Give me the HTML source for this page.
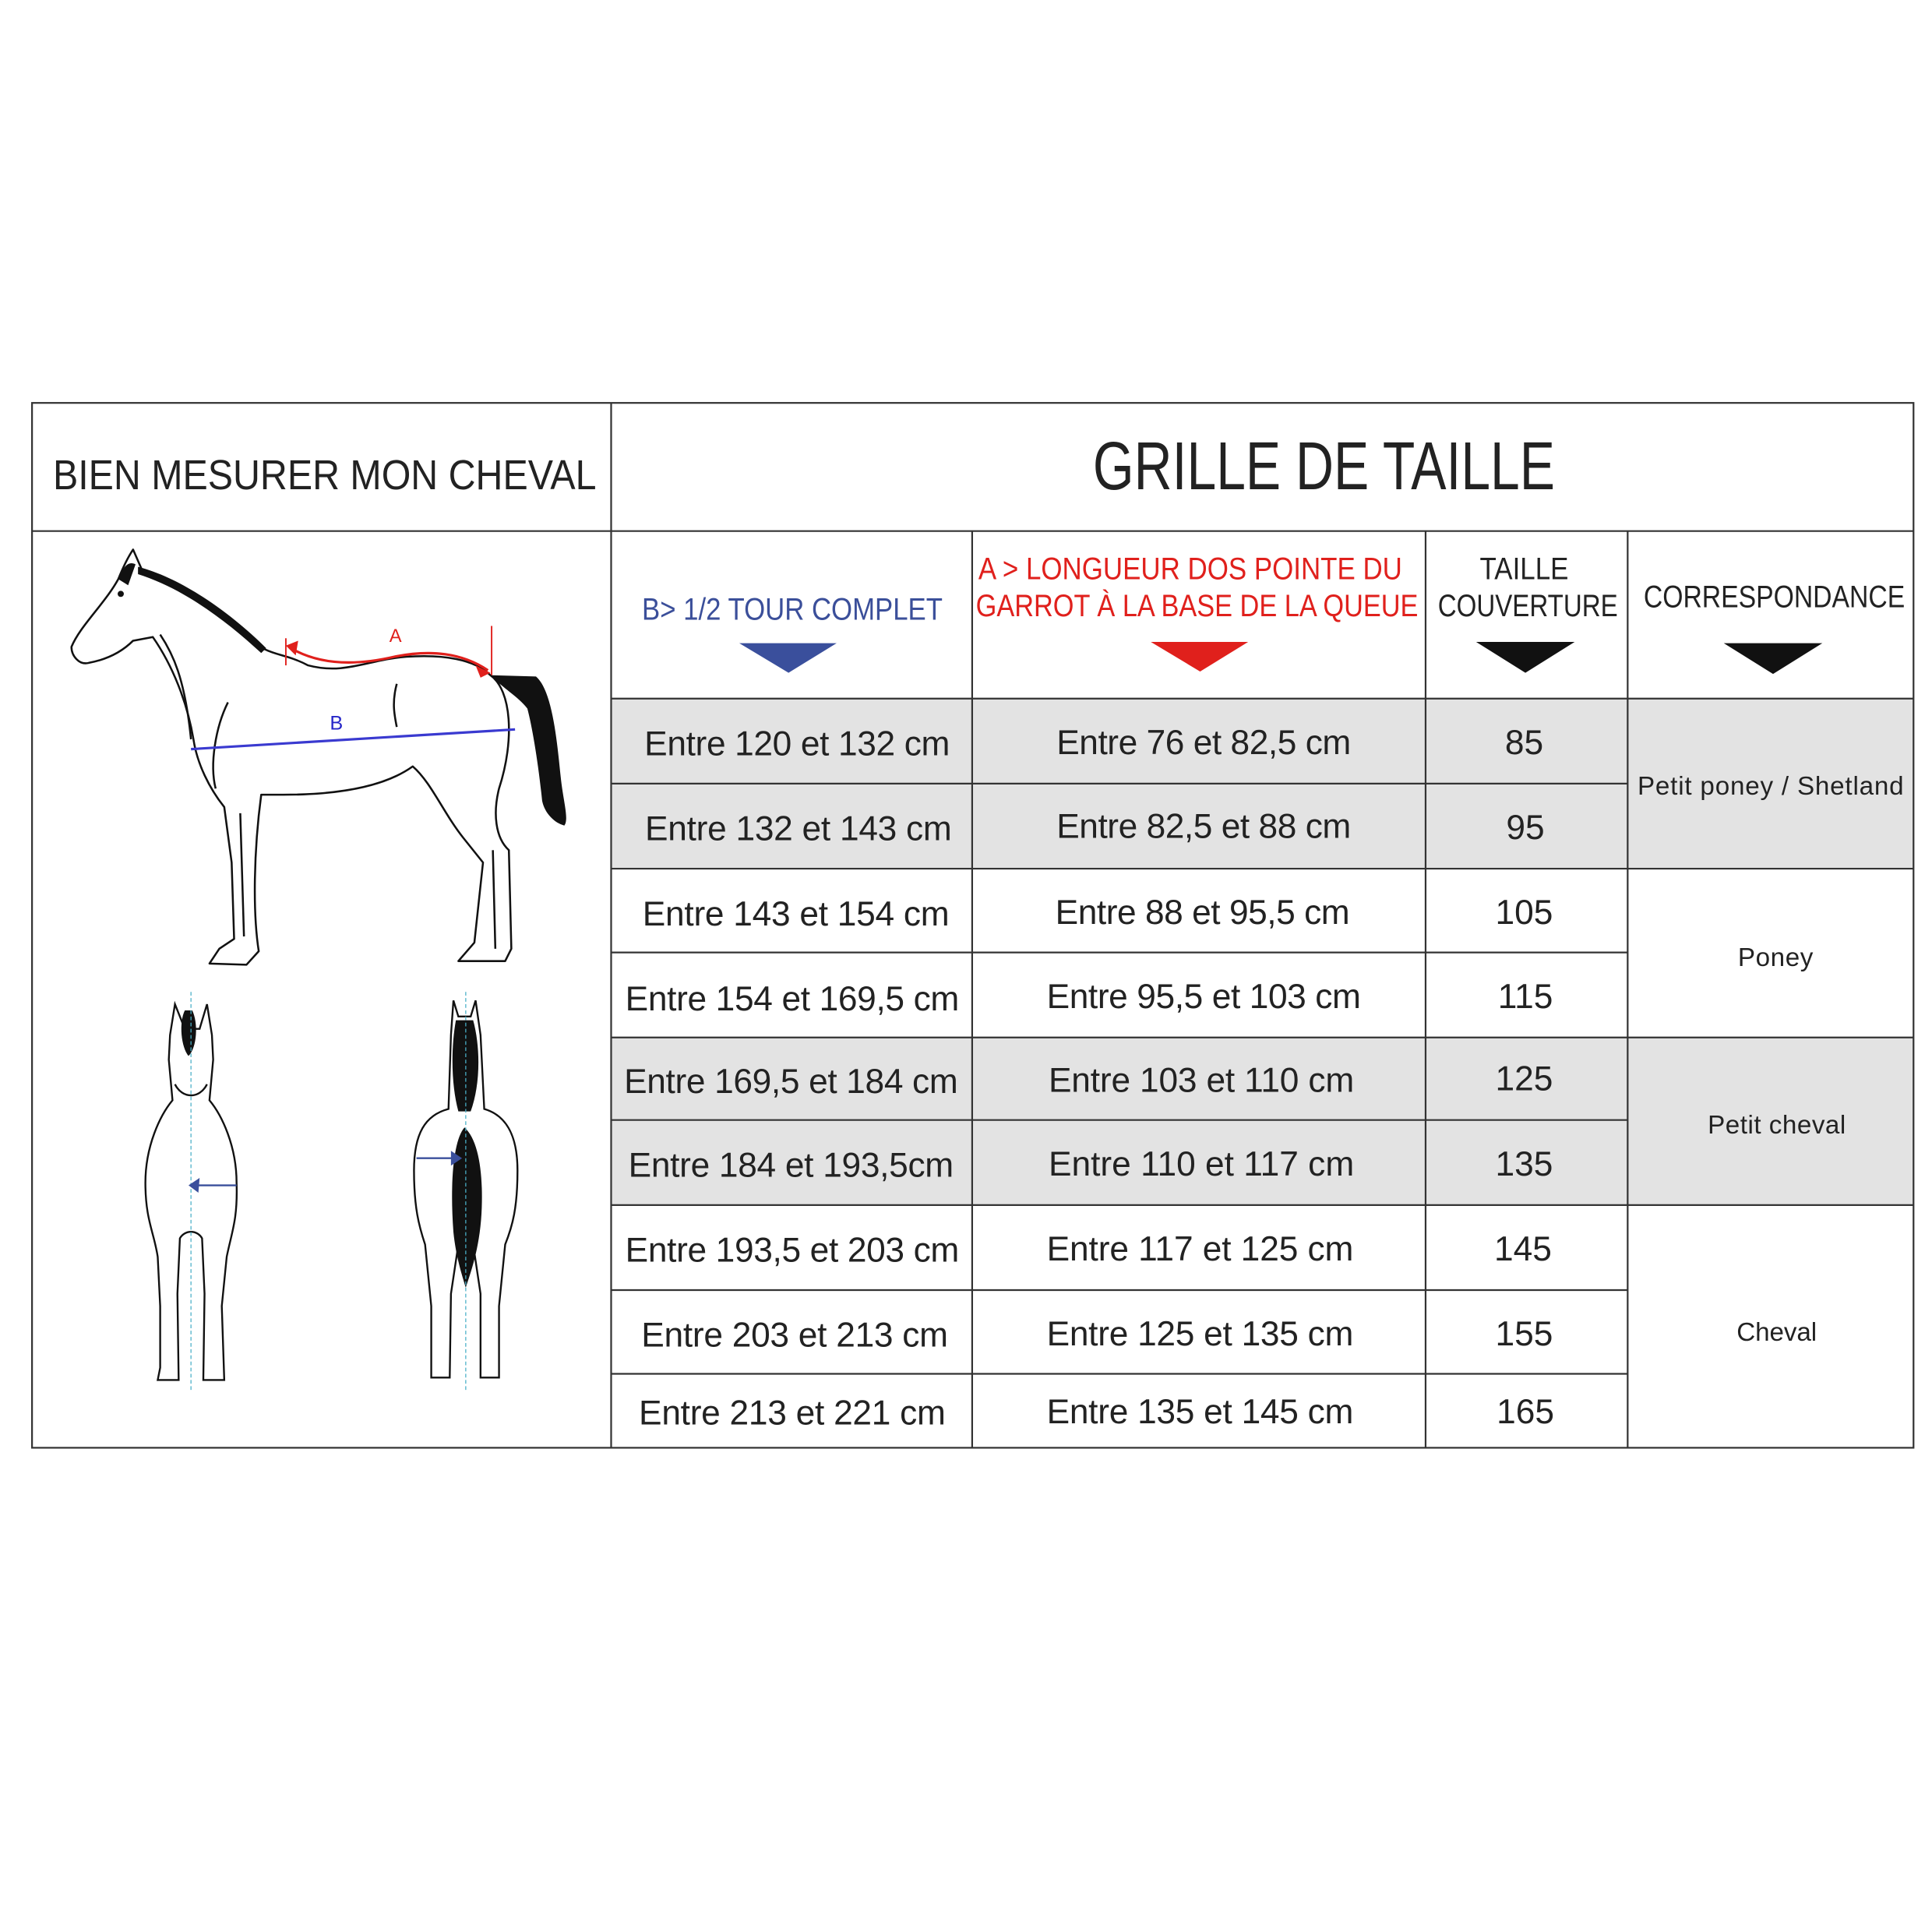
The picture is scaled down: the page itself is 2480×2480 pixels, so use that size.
<!DOCTYPE html>
<html><head><meta charset="utf-8"><style>html,body{margin:0;padding:0;background:#fff}svg{display:block}</style></head><body>
<svg width="2480" height="2480" viewBox="0 0 1568 1568" xmlns="http://www.w3.org/2000/svg" font-family="'Liberation Sans', sans-serif">
<rect width="1568" height="1568" fill="#fff"/>
<!-- gray fills -->
<rect x="496" y="567" width="1057" height="138" fill="#e3e3e3"/>
<rect x="496" y="842" width="1057" height="136" fill="#e3e3e3"/>
<g stroke="#333" stroke-width="1.4" fill="none">
<rect x="26" y="327" width="1527" height="848"/>
<line x1="26" y1="431" x2="1553" y2="431"/>
<line x1="496" y1="327" x2="496" y2="1175"/>
<line x1="789" y1="431" x2="789" y2="1175"/>
<line x1="1157" y1="431" x2="1157" y2="1175"/>
<line x1="1321" y1="431" x2="1321" y2="1175"/>
<line x1="496" y1="567" x2="1553" y2="567"/>
<line x1="496" y1="636" x2="1321" y2="636"/>
<line x1="496" y1="705" x2="1553" y2="705"/>
<line x1="496" y1="773" x2="1321" y2="773"/>
<line x1="496" y1="842" x2="1553" y2="842"/>
<line x1="496" y1="909" x2="1321" y2="909"/>
<line x1="496" y1="978" x2="1553" y2="978"/>
<line x1="496" y1="1047" x2="1321" y2="1047"/>
<line x1="496" y1="1115" x2="1321" y2="1115"/>
</g>
<g fill="#222">
<text x="43" y="397" font-size="34" textLength="441" lengthAdjust="spacingAndGlyphs">BIEN MESURER MON CHEVAL</text>
<text x="887" y="397" font-size="55" textLength="375" lengthAdjust="spacingAndGlyphs">GRILLE DE TAILLE</text>
</g>
<text x="521" y="503" font-size="25" fill="#3b4f9a" textLength="244" lengthAdjust="spacingAndGlyphs">B&gt; 1/2 TOUR COMPLET</text>
<polygon points="600,522 679,522 640,546" fill="#3a4f9c"/>
<g fill="#e0201c" font-size="25">
<text x="794" y="470" textLength="344" lengthAdjust="spacingAndGlyphs">A &gt; LONGUEUR DOS POINTE DU</text>
<text x="792" y="500" textLength="359" lengthAdjust="spacingAndGlyphs">GARROT À LA BASE DE LA QUEUE</text>
</g>
<polygon points="934,521 1013,521 974,545" fill="#e0201c"/>
<g fill="#222" font-size="25">
<text x="1237" y="470" text-anchor="middle" textLength="72" lengthAdjust="spacingAndGlyphs">TAILLE</text>
<text x="1167" y="500" textLength="146" lengthAdjust="spacingAndGlyphs">COUVERTURE</text>
<text x="1334" y="493" textLength="212" lengthAdjust="spacingAndGlyphs">CORRESPONDANCE</text>
</g>
<polygon points="1198,521 1278,521 1238,546" fill="#111"/>
<polygon points="1399,522 1479,522 1439,547" fill="#111"/>
<g fill="#222" font-size="28" text-anchor="middle" lengthAdjust="spacingAndGlyphs">
<text x="647" y="613" textLength="248">Entre 120 et 132 cm</text>
<text x="648" y="682" textLength="249">Entre 132 et 143 cm</text>
<text x="646" y="751" textLength="249">Entre 143 et 154 cm</text>
<text x="643" y="820" textLength="271">Entre 154 et 169,5 cm</text>
<text x="642" y="887" textLength="271">Entre 169,5 et 184 cm</text>
<text x="642" y="955" textLength="264">Entre 184 et 193,5cm</text>
<text x="643" y="1024" textLength="271">Entre 193,5 et 203 cm</text>
<text x="645" y="1093" textLength="249">Entre 203 et 213 cm</text>
<text x="643" y="1156" textLength="249">Entre 213 et 221 cm</text>
<text x="977" y="612" textLength="239">Entre 76 et 82,5 cm</text>
<text x="977" y="680" textLength="239">Entre 82,5 et 88 cm</text>
<text x="976" y="750" textLength="239">Entre 88 et 95,5 cm</text>
<text x="977" y="818" textLength="255">Entre 95,5 et 103 cm</text>
<text x="975" y="886" textLength="248">Entre 103 et 110 cm</text>
<text x="975" y="954" textLength="248">Entre 110 et 117 cm</text>
<text x="974" y="1023" textLength="249">Entre 117 et 125 cm</text>
<text x="974" y="1092" textLength="249">Entre 125 et 135 cm</text>
<text x="974" y="1155" textLength="249">Entre 135 et 145 cm</text>
<text x="1237" y="612">85</text>
<text x="1238" y="681">95</text>
<text x="1237" y="750">105</text>
<text x="1238" y="818">115</text>
<text x="1237" y="885">125</text>
<text x="1237" y="954">135</text>
<text x="1236" y="1023">145</text>
<text x="1237" y="1092">155</text>
<text x="1238" y="1155">165</text>
</g>
<g fill="#222" font-size="21" text-anchor="middle" lengthAdjust="spacingAndGlyphs">
<text x="1437" y="645" textLength="216">Petit poney / Shetland</text>
<text x="1441" y="784" textLength="61">Poney</text>
<text x="1442" y="920" textLength="112">Petit cheval</text>
<text x="1442" y="1088" textLength="65">Cheval</text>
</g>
<!-- side horse -->
<g fill="none" stroke="#111" stroke-width="1.6" stroke-linejoin="round">
<path d="M108,446 L115,462 C150,475 185,500 215,527 C225,532 235,532 250,540 C280,548 300,535 330,533 C360,531 385,535 398,548 C415,560 418,600 405,640 C400,660 402,680 413,690 L415,770 L410,780 L372,780 L385,765 L392,700 L376,680 C360,660 350,635 335,622 C310,640 270,645 230,645 L212,645 C206,690 205,740 210,772 L200,783 L170,782 L178,770 L190,762 L188,700 L182,655 C170,640 160,620 157,600 C152,570 140,540 124,517 L108,520 C100,528 88,535 72,538 C64,540 58,532 58,525 C65,508 85,490 96,470 C100,460 104,452 108,446 Z"/>
<path d="M130,515 C140,530 150,550 155,600"/>
<path d="M185,570 C175,590 170,620 175,640"/>
<path d="M322,555 C318,570 320,580 322,590"/>
<path d="M195,660 L198,760"/>
<path d="M400,690 L402,770"/>
</g>
<path d="M112,460 C150,470 190,500 216,526 L212,530 C185,505 150,478 112,466 Z" fill="#111"/>
<path d="M96,470 C100,460 104,455 110,458 L104,475 Z" fill="#111"/>
<path d="M398,548 L435,549 C448,560 452,600 455,630 C457,650 462,665 458,670 C450,668 442,660 440,650 C437,620 432,590 428,575 C420,565 410,560 398,548 Z" fill="#111"/>
<circle cx="98" cy="482" r="2.5" fill="#111"/>
<!-- measurement A -->
<g stroke="#e0201c" stroke-width="1.2" fill="none">
<line x1="232" y1="518" x2="232" y2="540"/>
<line x1="399" y1="508" x2="399" y2="548"/>
<path d="M236,526 C260,540 290,540 320,533 C350,527 375,530 396,544" stroke-width="2"/>
</g>
<polygon points="232,524 242,520 240,532" fill="#e0201c"/>
<polygon points="398,546 386,540 390,550" fill="#e0201c"/>
<text x="321" y="521" font-size="15" fill="#e0201c" text-anchor="middle">A</text>
<line x1="155" y1="608" x2="418" y2="592" stroke="#3a3ad0" stroke-width="2"/>
<text x="273" y="592" font-size="16" fill="#2626c8" text-anchor="middle">B</text>
<!-- front horse -->
<g fill="none" stroke="#111" stroke-width="1.5">
<path d="M142,815 L138,840 L137,860 L140,893 C130,905 118,930 118,960 C118,990 125,1000 128,1020 L130,1060 L130,1110 L128,1120 L145,1120 L144,1050 L146,1005 C150,998 160,998 164,1005 L166,1050 L165,1120 L182,1120 L180,1060 L184,1020 C188,1000 193,990 192,960 C192,930 180,905 170,893 L173,860 L172,840 L168,815 L162,835 L150,835 Z"/>
<path d="M142,880 C148,892 162,892 168,880"/>
</g>
<path d="M150,820 C145,830 147,850 153,857 C160,850 161,830 156,820 Z" fill="#111"/>
<line x1="155" y1="805" x2="155" y2="1128" stroke="#4ab0c8" stroke-width="0.8" stroke-dasharray="3,2"/>
<line x1="192" y1="962" x2="160" y2="962" stroke="#3a4f9c" stroke-width="1.5"/>
<polygon points="153,962 162,956 161,968" fill="#3a4f9c"/>
<!-- rear horse -->
<g fill="none" stroke="#111" stroke-width="1.5">
<path d="M368,812 L366,840 L364,900 C345,905 336,920 336,950 C336,980 340,995 345,1010 L350,1060 L350,1118 L365,1118 L366,1050 L372,1010 L384,1010 L390,1050 L390,1118 L405,1118 L405,1060 L410,1010 C416,995 420,980 420,950 C420,920 410,905 393,900 L390,840 L386,812 L382,825 L372,825 Z"/>
</g>
<path d="M370,828 C366,850 366,880 372,902 L382,902 C390,880 390,850 384,828 Z" fill="#111"/>
<path d="M377,915 C368,925 365,960 368,1000 C370,1020 375,1035 378,1045 C383,1030 390,1010 391,980 C392,950 388,925 377,915 Z" fill="#111"/>
<line x1="378" y1="805" x2="378" y2="1128" stroke="#4ab0c8" stroke-width="0.8" stroke-dasharray="3,2"/>
<line x1="338" y1="940" x2="368" y2="940" stroke="#3a4f9c" stroke-width="1.5"/>
<polygon points="375,940 366,934 366,946" fill="#3a4f9c"/>
</svg>
</body></html>
